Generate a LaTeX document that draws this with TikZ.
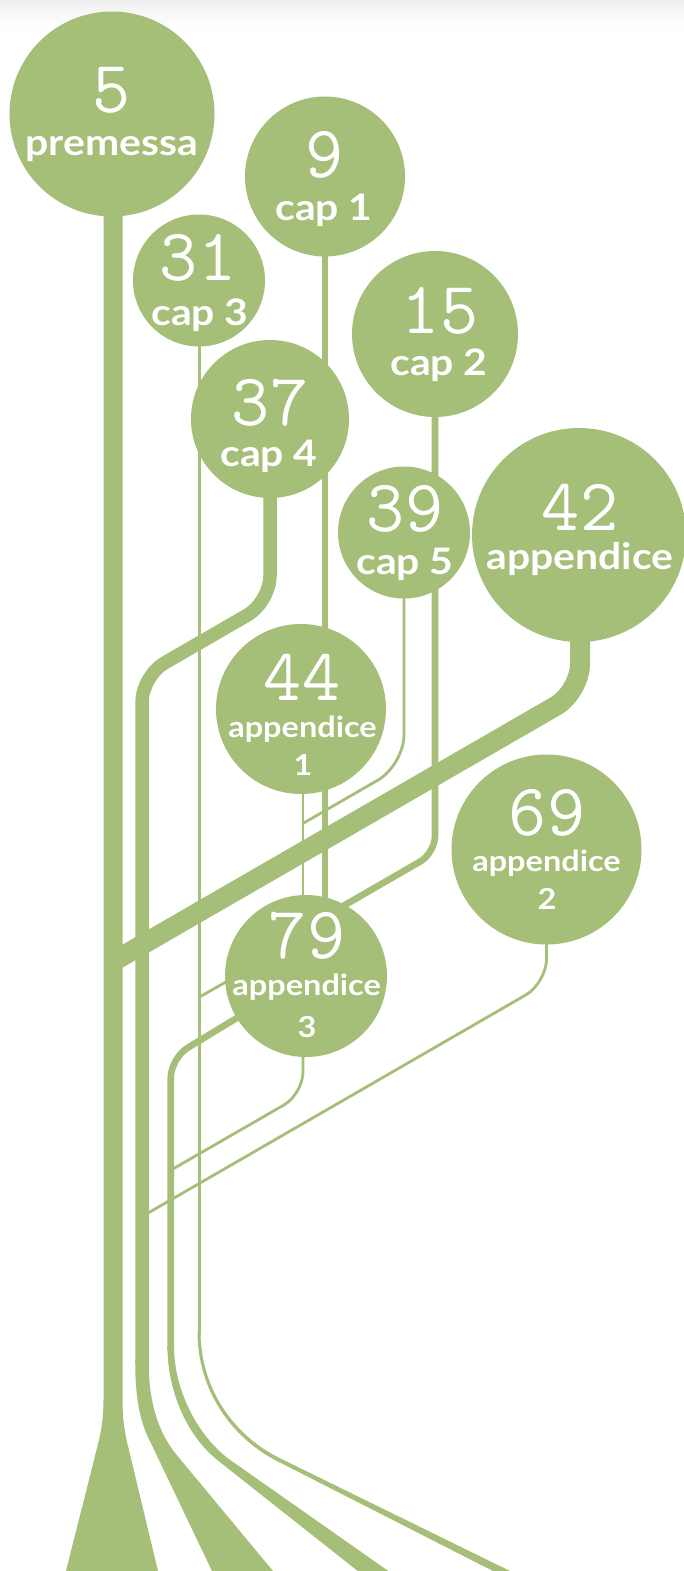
\documentclass[tikz,border=0pt]{standalone}
\usepackage{fontspec}
\newfontfamily\labfont{Lato}[FakeStretch=1.12]
\definecolor{leaf}{RGB}{165,190,120}
\pgfdeclarelayer{bg}
\pgfdeclarelayer{lines}
\pgfsetlayers{bg,lines,main}
\begin{document}
\begin{tikzpicture}[x=1pt,y=-1pt,
  bubble/.style={circle, fill=leaf, draw=none, inner sep=0pt},
  num/.style={text=white, anchor=base, inner sep=0pt, font=\ttfamily\fontsize{74}{74}\selectfont},
  lab/.style={text=white, anchor=base, inner sep=0pt, font=\labfont\bfseries\fontsize{36.5}{36.5}\selectfont},
  labs/.style={text=white, anchor=base, inner sep=0pt, font=\labfont\bfseries\fontsize{29}{29}\selectfont},
  branch/.style={draw=leaf, line cap=butt},
  root/.style={fill=leaf}]
\useasboundingbox (0,0) rectangle (684,1571);
\begin{pgfonlayer}{bg}
\fill[white] (0,0) rectangle (684,1571);
\shade[top color=black!6, bottom color=white, draw=none] (0,0) rectangle (684,28);
\end{pgfonlayer}

% bubbles
\node[bubble, minimum size=205pt] (c5)  at (112,114)   {};
\node[bubble, minimum size=160pt] (c9)  at (325,176.5) {};
\node[bubble, minimum size=132pt] (c31) at (199,280.5) {};
\node[bubble, minimum size=166pt] (c15) at (435,334)   {};
\node[bubble, minimum size=158pt] (c37) at (270,419)   {};
\node[bubble, minimum size=132pt] (c39) at (404,532.5) {};
\node[bubble, minimum size=214pt] (c42) at (579,535)   {};
\node[bubble, minimum size=170pt] (c44) at (301,709)   {};
\node[bubble, minimum size=190pt] (c69) at (546.5,849.5) {};
\node[bubble, minimum size=162pt] (c79) at (306,976)   {};

% texts
\node[num] (n5)  at (112,112) {5};
\node[lab] (l5)  at (112,155) {premessa};
\node[num] (n9)  at (325,177) {9};
\node[lab] (l9)  at (324,220) {cap 1};
\node[num] (n31) at (198,280) {31};
\node[lab] (l31) at (200,325) {cap 3};
\node[num] (n15) at (440,333) {15};
\node[lab] (l15) at (439,375) {cap 2};
\node[num] (n37) at (270,425) {37};
\node[lab] (l37) at (269,466) {cap 4};
\node[num] (n39) at (405,531) {39};
\node[lab] (l39) at (405,574) {cap 5};
\node[num] (n42) at (580,530) {42};
\node[lab] (l42) at (580,569) {appendice};
\node[num]  (n44)  at (302,700) {44};
\node[labs] (l44)  at (302.5,737) {appendice};
\node[labs] (l44b) at (303,775) {1};
\node[num]  (n69)  at (547,835) {69};
\node[labs] (l69)  at (546.5,871) {appendice};
\node[labs] (l69b) at (547,909) {2};
\node[num]  (n79)  at (307,958) {79};
\node[labs] (l79)  at (306.7,995) {appendice};
\node[labs] (l79b) at (307,1037) {3};

% junction coordinates
\coordinate (k37a) at (270,602);
\coordinate (k37b) at (142,676);
\coordinate (k37c) at (142,1364);
\coordinate (k15a) at (435,853);
\coordinate (k15b) at (330,913.6);
\coordinate (k39a) at (404,765);
\coordinate (j39)  at (303,823.4);
\coordinate (k44a) at (303,780);
\coordinate (k44b) at (303,935);
\coordinate (k42a) at (580,692);
\coordinate (j42)  at (113,961.6);
\coordinate (k42s) at (580,620);
\coordinate (k69a) at (546.5,983);
\coordinate (j69)  at (142,1216.5);
\coordinate (k79a) at (303,1094);
\coordinate (k79s) at (303,1045);
\coordinate (j79b) at (170.7,1170.2);
\coordinate (k79c) at (170.7,1058.1);
\coordinate (k79d) at (170.7,1350);
\coordinate (k79e) at (250,968);
\coordinate (j79e) at (199,997.4);
\coordinate (k31a) at (199,1335);
\coordinate (k9a)  at (325,940);

\begin{pgfonlayer}{lines}
% trunk of premessa
\fill[root] (103.5,200) -- (103.5,1400) .. controls (103.5,1415) and (102,1428) .. (98,1444)
  -- (66,1571) -- (158,1571) -- (127.5,1444) .. controls (123.7,1428) and (122.5,1415) .. (122.5,1400)
  -- (122.5,200) -- cycle;
% cap 4
\draw[branch, line width=13.5pt, rounded corners=26pt] (c37.center) -- (k37a) -- (k37b) -- (k37c);
\fill[root] (135.25,1360) -- (135.25,1364) .. controls (135.25,1395) and (139.4,1419) .. (148,1437)
  -- (212,1571) -- (273,1571) -- (176.7,1455) .. controls (157.5,1432) and (148.75,1400) .. (148.75,1364)
  -- (148.75,1360) -- cycle;
% cap 1
\draw[branch, line width=6.6pt] (c9.center) -- (k9a);
% cap 2
\draw[branch, line width=6.6pt, rounded corners=17pt] (c15.center) -- (k15a) -- (k15b);
% cap 3
\draw[branch, line width=3pt] (c31.center) -- (k31a);
\fill[root] (197.5,1331) .. controls (197.5,1395) and (236,1440.1) .. (277,1461)
  -- (493,1571) -- (510,1571) -- (279.5,1458) .. controls (238.2,1437.8) and (200.5,1393) .. (200.5,1331) -- cycle;
% cap 5
\draw[branch, line width=2.8pt, rounded corners=30pt] (c39.center) -- (k39a) -- (j39);
% appendice 1
\draw[branch, line width=2.8pt] (k44a) -- (k44b);
% appendice (42)
\draw[branch, line width=20pt, rounded corners=28pt] (k42s) -- (k42a) -- (j42);
% appendice 2
\draw[branch, line width=2.8pt, rounded corners=24pt] (c69.center) -- (k69a) -- (j69);
% appendice 3
\draw[branch, line width=2.8pt, rounded corners=22pt] (k79s) -- (k79a) -- (j79b);
\draw[branch, line width=6.6pt, rounded corners=20pt] (c79.center) -- (k79c) -- (k79d);
\fill[root] (167.4,1346) .. controls (167.4,1391) and (186.8,1435.9) .. (218.2,1460.7)
  -- (357.8,1571) -- (388.3,1571) -- (231.2,1460.7) .. controls (198.5,1437.7) and (174,1391) .. (174,1346) -- cycle;
\draw[branch, line width=2.8pt] (k79e) -- (j79e);
\end{pgfonlayer}
\end{tikzpicture}
\end{document}
